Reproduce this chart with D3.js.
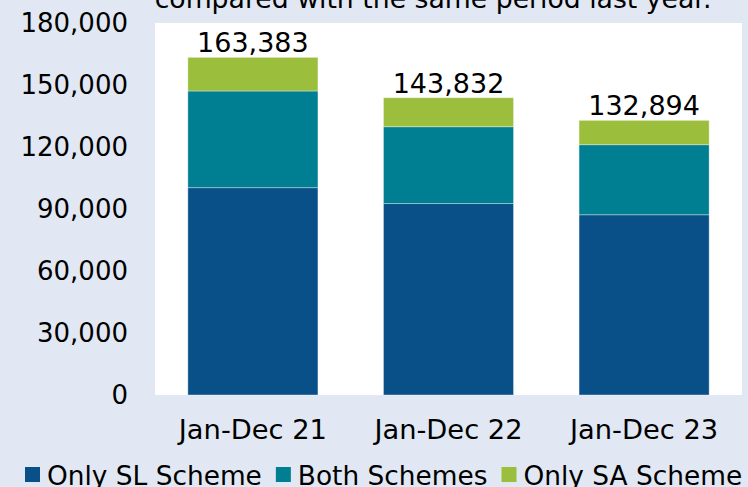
<!DOCTYPE html>
<html>
<head>
<meta charset="utf-8">
<script src="https://cdn.jsdelivr.net/npm/d3@7"></script>
<style>
  body { margin: 0; background: #e1e8f3; }
  svg text { font-family: "DejaVu Sans", Verdana, sans-serif; fill: #000; }
</style>
</head>
<body>
<svg id="chart"></svg>
<script>
const width = 748;
const height = 487;

// data
const categories = ["Jan-Dec 21", "Jan-Dec 22", "Jan-Dec 23"];
const seriesNames = ["Only SL Scheme", "Both Schemes", "Only SA Scheme"];
const onlySL = [100300, 92600, 87200];
const bothSchemes = [46800, 37200, 33900];
const totals = [163383, 143832, 132894];
const onlySA = totals.map((t, i) => t - onlySL[i] - bothSchemes[i]);
const yTicks = [0, 30000, 60000, 90000, 120000, 150000, 180000];
const colors = ["#0a5088", "#007f93", "#9bbe3c"];

const margin = { top: 23, right: 6, bottom: 92, left: 155 };

const svg = d3.select("#chart")
    .attr("width", width)
    .attr("height", height);

svg.append("rect")
    .attr("width", width)
    .attr("height", height)
    .attr("fill", "#e1e8f3");

// title, cut off at the top
svg.append("text")
    .attr("x", 433)
    .attr("y", 8)
    .attr("text-anchor", "middle")
    .style("font-size", "26.7px")
    .text("compared with the same period last year.");

const x = d3.scaleBand()
    .domain(categories)
    .range([margin.left, width - margin.right])
    .paddingInner(0.335)
    .paddingOuter(0.168);

const y = d3.scaleLinear()
    .domain([0, 180000])
    .range([height - margin.bottom, margin.top]);

// plot area
svg.append("rect")
    .attr("x", margin.left)
    .attr("y", margin.top)
    .attr("width", width - margin.right - margin.left)
    .attr("height", y(0) - margin.top)
    .attr("fill", "#fff");

const rows = categories.map((c, i) => ({
    cat: c,
    "Only SL Scheme": onlySL[i],
    "Both Schemes": bothSchemes[i],
    "Only SA Scheme": onlySA[i]
}));

const stack = d3.stack().keys(seriesNames)(rows);

svg.append("g")
    .selectAll("g")
    .data(stack)
    .join("g")
    .attr("fill", (d, i) => colors[i])
    .selectAll("rect")
    .data(d => d)
    .join("rect")
    .attr("x", d => x(d.data.cat))
    .attr("width", x.bandwidth())
    .attr("y", d => y(d[1]))
    .attr("height", d => y(d[0]) - y(d[1]))
    .attr("stroke", "rgba(255,255,255,0.45)")
    .attr("stroke-width", 0.8);

// total labels
svg.append("g")
    .selectAll("text")
    .data(categories)
    .join("text")
    .attr("x", d => x(d) + x.bandwidth() / 2)
    .attr("y", (d, i) => y(totals[i]) - 5)
    .attr("text-anchor", "middle")
    .style("font-size", "27px")
    .text((d, i) => d3.format(",")(totals[i]));

// y axis
const yAxis = svg.append("g")
    .attr("transform", `translate(${margin.left},0)`)
    .call(d3.axisLeft(y).tickValues(yTicks).tickFormat(d3.format(",")).tickSize(0).tickPadding(27));
yAxis.select(".domain").remove();
yAxis.selectAll("text").style("font-size", "26px").attr("font-family", null);

// x axis
const xAxis = svg.append("g")
    .attr("transform", `translate(0,${y(0)})`)
    .call(d3.axisBottom(x).tickSize(0).tickPadding(0));
xAxis.select(".domain").remove();
xAxis.selectAll("text")
    .style("font-size", "27.3px")
    .attr("font-family", null)
    .attr("dy", null)
    .attr("y", 44);

// legend
const legend = svg.append("g").attr("transform", "translate(25,482)");
let lx = 0;
seriesNames.forEach((name, i) => {
    legend.append("rect")
        .attr("x", lx)
        .attr("y", -15)
        .attr("width", 15)
        .attr("height", 15)
        .attr("fill", colors[i]);
    const t = legend.append("text")
        .attr("x", lx + 22)
        .attr("y", 3)
        .style("font-size", "26.4px")
        .text(name);
    lx += 22 + t.node().getComputedTextLength() + 14;
});
</script>
</body>
</html>
